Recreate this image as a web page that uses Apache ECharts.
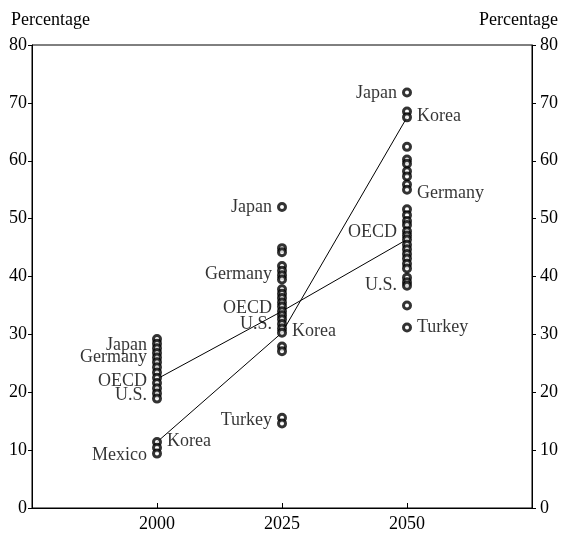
<!DOCTYPE html>
<html>
<head>
<meta charset="utf-8">
<script src="https://cdn.jsdelivr.net/npm/echarts@6/dist/echarts.min.js"></script>
<style>
  html, body { margin: 0; padding: 0; background: #fff; }
  #chart { width: 563px; height: 533px; }
</style>
</head>
<body>
<div id="chart"></div>
<script>
// Projected shares (percent) for OECD countries in each year
const years = [2000, 2025, 2050];
const values2000 = [29.2, 28.4, 27.6, 26.8, 26.0, 25.2, 24.3, 23.4, 22.5, 21.6, 20.7, 19.8, 18.9, 11.4, 10.4, 9.4];
const values2025 = [52.0, 44.9, 44.2, 41.8, 41.0, 40.2, 39.5, 37.8, 37.0, 36.3, 35.5, 34.8, 34.0, 33.3, 32.6, 31.8, 31.0, 30.3, 27.9, 27.1, 15.6, 14.6];
const values2050 = [71.8, 68.5, 67.5, 62.4, 60.2, 59.5, 58.2, 57.3, 55.9, 55.0, 51.6, 50.6, 49.6, 48.9, 47.8, 47.1, 46.4, 45.5, 44.7, 43.9, 43.1, 42.2, 41.4, 39.8, 39.0, 38.4, 35.0, 31.2];

// Trend paths for Korea and the OECD average
const koreaPath = [11.4, 30.3, 67.5];
const oecdPath = [22.3, 34.0, 46.4];

// Country name labels: [name, year, level, side]
const countryLabels = [
  ['Japan', 2000, 28.2, 'left'],
  ['Germany', 2000, 26.0, 'left'],
  ['OECD', 2000, 21.9, 'left'],
  ['U.S.', 2000, 19.5, 'left'],
  ['Korea', 2000, 11.6, 'right'],
  ['Mexico', 2000, 9.1, 'left'],
  ['Japan', 2025, 52.0, 'left'],
  ['Germany', 2025, 40.3, 'left'],
  ['OECD', 2025, 34.5, 'left'],
  ['U.S.', 2025, 31.7, 'left'],
  ['Korea', 2025, 30.6, 'right'],
  ['Turkey', 2025, 15.2, 'left'],
  ['Japan', 2050, 71.7, 'left'],
  ['Korea', 2050, 67.6, 'right'],
  ['Germany', 2050, 54.3, 'right'],
  ['OECD', 2050, 47.6, 'left'],
  ['U.S.', 2050, 38.4, 'left'],
  ['Turkey', 2050, 31.2, 'right']
];

const yTicks = { min: 0, max: 80, interval: 10 };
const xRange = { min: 1975, max: 2075, interval: 25 };

const FONT = 'Liberation Serif';
const FS = 18;

const chart = echarts.init(document.getElementById('chart'), null, { renderer: 'canvas' });

function columnSeries(year, vals) {
  return {
    type: 'scatter',
    z: 3,
    symbol: 'circle',
    symbolSize: 7,
    itemStyle: { color: '#fff', borderColor: '#000', borderWidth: 3 },
    data: vals.map(v => [year, v])
  };
}

function pathSeries(vals) {
  return {
    type: 'line',
    z: 2,
    symbol: 'none',
    lineStyle: { color: '#000', width: 1 },
    data: years.map((y, i) => [y, vals[i]])
  };
}

function yAxisFor(side, margin) {
  return {
    type: 'value',
    position: side,
    min: yTicks.min,
    max: yTicks.max,
    interval: yTicks.interval,
    splitLine: { show: false },
    axisLine: { show: true, lineStyle: { color: '#000', width: 1 } },
    axisTick: { show: true, inside: false, length: 4, lineStyle: { color: '#000' } },
    axisLabel: { color: '#000', fontFamily: FONT, fontSize: FS, margin: margin }
  };
}

chart.setOption({
  animation: false,
  backgroundColor: '#fff',
  title: [
    { text: 'Percentage', left: 6, top: 6, textStyle: { fontFamily: FONT, fontSize: FS, fontWeight: 'normal', color: '#000' } },
    { text: 'Percentage', right: 0, top: 6, textStyle: { fontFamily: FONT, fontSize: FS, fontWeight: 'normal', color: '#000' } }
  ],
  grid: { left: 32, right: 31, top: 45, bottom: 24, show: true, borderColor: '#000', borderWidth: 1, containLabel: false },
  xAxis: {
    type: 'value',
    min: xRange.min,
    max: xRange.max,
    interval: xRange.interval,
    splitLine: { show: false },
    axisLine: { show: true, onZero: false, lineStyle: { color: '#000', width: 1 } },
    axisTick: { show: true, inside: true, length: 5, lineStyle: { color: '#000' } },
    axisLabel: {
      color: '#000', fontFamily: FONT, fontSize: FS, margin: 7,
      formatter: v => (years.indexOf(v) >= 0 ? String(v) : '')
    }
  },
  yAxis: [yAxisFor('left', 5), yAxisFor('right', 8)],
  series: [
    pathSeries(koreaPath),
    pathSeries(oecdPath),
    columnSeries(2000, values2000),
    columnSeries(2025, values2025),
    columnSeries(2050, values2050),
    {
      type: 'scatter',
      z: 4,
      symbolSize: 0,
      silent: true,
      data: countryLabels.map(l => ({
        name: l[0],
        value: [l[1], l[2]],
        label: { show: true, position: l[3], distance: 10, formatter: '{b}', color: '#000', fontFamily: FONT, fontSize: FS }
      }))
    }
  ]
});
</script>
</body>
</html>
